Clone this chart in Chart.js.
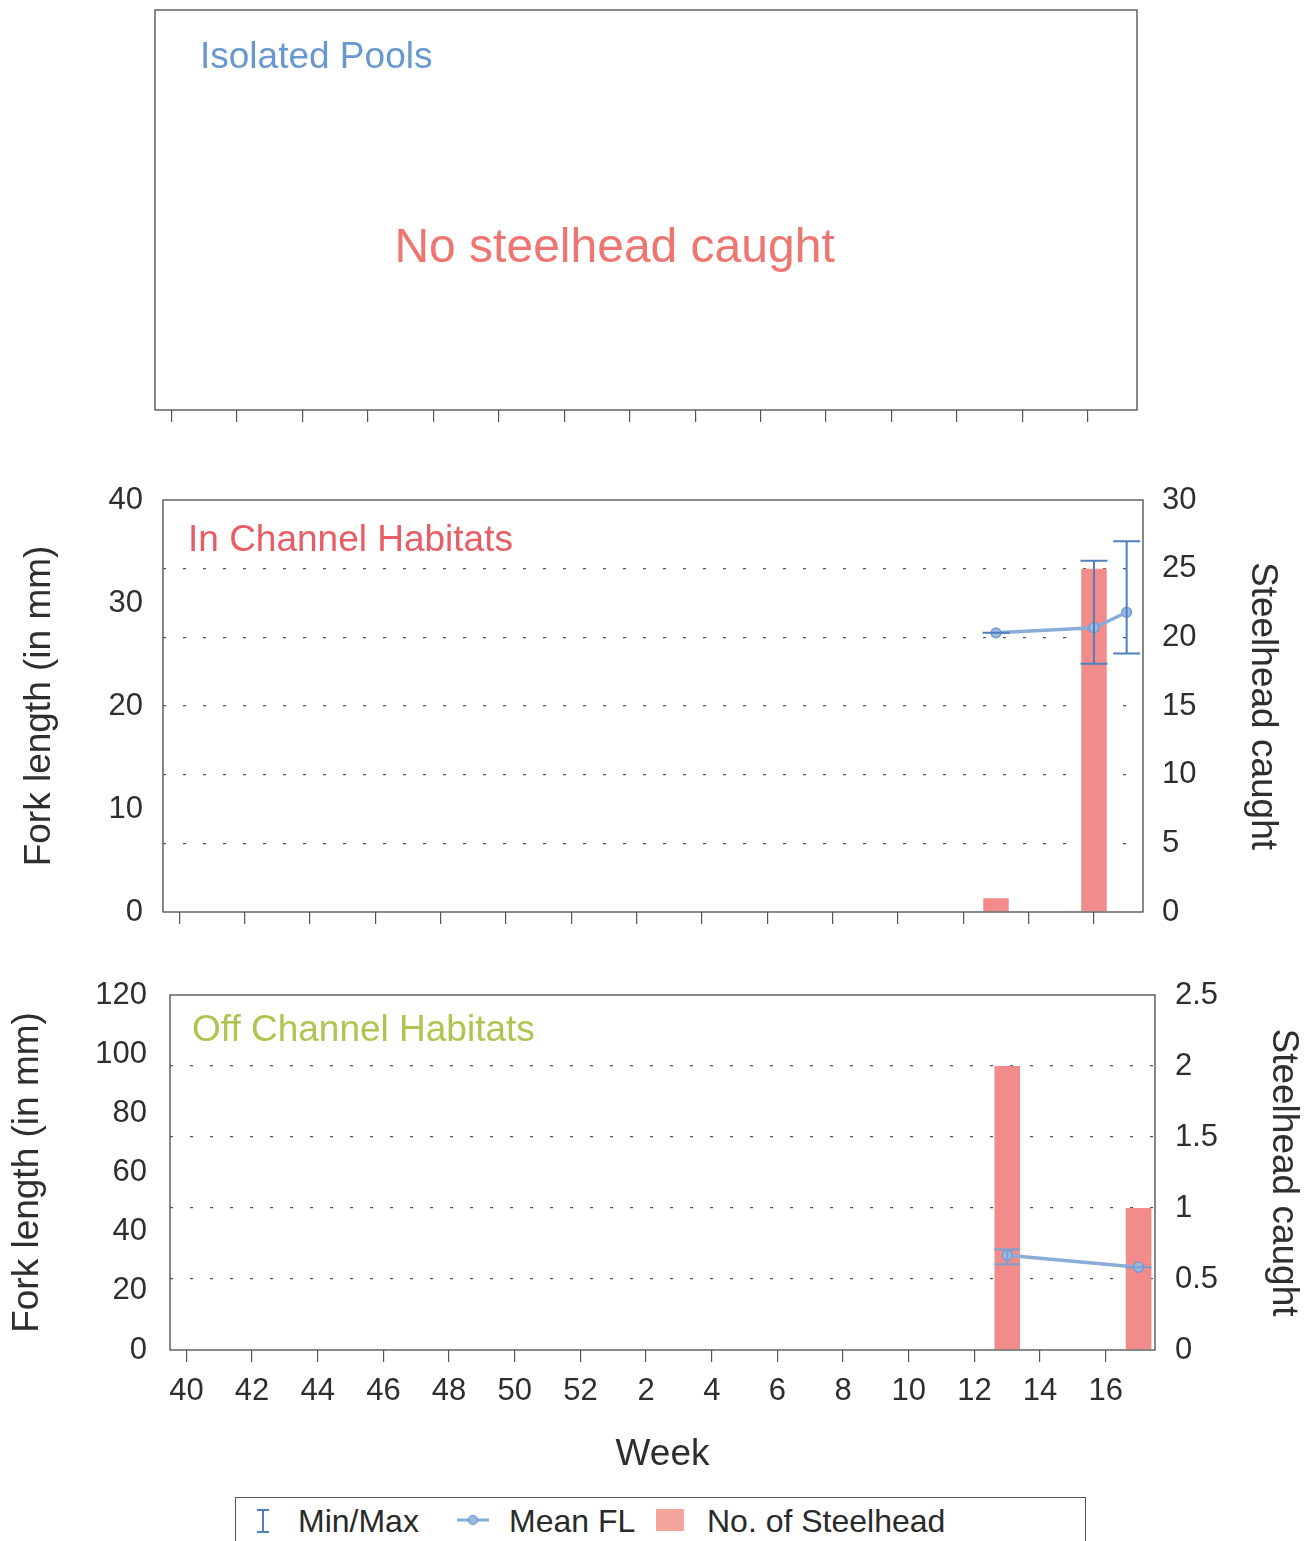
<!DOCTYPE html>
<html>
<head>
<meta charset="utf-8">
<script src="https://cdn.jsdelivr.net/npm/chart.js@4/dist/chart.umd.min.js"></script>
<style>
  html, body { margin:0; padding:0; background:#fff; }
  body { width:1312px; height:1541px; position:relative; overflow:hidden; font-family:"Liberation Sans", Arial, sans-serif; }
  .panel { position:absolute; left:0; }
  #legend { position:absolute; left:235px; top:1497px; width:851px; height:70px; border:1.2px solid #555; box-sizing:border-box; }
  #legend span, #legend svg { position:absolute; }
  #legend span { font-size:32px; line-height:38px; top:4px; color:#2a2a2a; white-space:nowrap; }
</style>
</head>
<body>
<canvas id="c1" class="panel" style="top:0px" width="1312" height="440"></canvas>
<canvas id="c2" class="panel" style="top:470px" width="1312" height="470"></canvas>
<canvas id="c3" class="panel" style="top:960px" width="1312" height="520"></canvas>
<div id="legend">
  <svg style="left:18px;top:10px" width="18" height="26" viewBox="0 0 18 26">
    <path d="M3 2 H15 M9 2 V24 M3 24 H15" stroke="#4f7fbc" stroke-width="2" fill="none"/>
  </svg>
  <span style="left:62px">Min/Max</span>
  <svg style="left:220px;top:15px" width="34" height="14" viewBox="0 0 34 14">
    <line x1="1" y1="7" x2="33" y2="7" stroke="#8aacd8" stroke-width="3"/>
    <circle cx="17" cy="7" r="4.5" fill="#9ab8e0" stroke="#6e96cc" stroke-width="1.2"/>
  </svg>
  <span style="left:273px">Mean FL</span>
  <svg style="left:420px;top:11px" width="28" height="22" viewBox="0 0 28 22">
    <rect x="0" y="0" width="28" height="22" fill="#f4a49a"/>
  </svg>
  <span style="left:471px">No. of Steelhead</span>
</div>
<script>
// ---------- DATA ----------
const weeks = ['40','41','42','43','44','45','46','47','48','49','50','51','52',
               '1','2','3','4','5','6','7','8','9','10','11','12','13','14','15','16','17'];

// In Channel Habitats
const inChCountWeeks = ['13','16'];
const inChCount      = [1, 25];
const inChFLWeeks    = ['13','16','17'];
const inChMeanFL     = [27.1, 27.6, 29.1];
const inChMinFL      = [27.1, 24.1, 25.1];
const inChMaxFL      = [27.1, 34.1, 36.0];

// Off Channel Habitats
const offChCountWeeks = ['13','17'];
const offChCount      = [2, 1];
const offChFLWeeks    = ['13','17'];
const offChMeanFL     = [32, 28];
const offChMinFL      = [29, 28];
const offChMaxFL      = [34, 28];

// Axis ranges
const inChFLAxis     = {min:0, max:40, step:10};
const inChCountAxis  = {min:0, max:30, step:5};
const offChFLAxis    = {min:0, max:120, step:20};
const offChCountAxis = {min:0, max:2.5, step:0.5};

// ---------- STYLE ----------
const FONT = '"Liberation Sans", Arial, sans-serif';
Chart.defaults.font.family = FONT;
Chart.defaults.color = '#2e2e2e';
const BAR_COLOR = 'rgb(241,140,138)';
const LINE_COLOR = 'rgb(138,172,216)';
const ERR_COLOR = 'rgb(79,127,188)';
const BOX_COLOR = '#4a4a4a';
const CLEAR = 'rgba(0,0,0,0)';

function xAxis(showLabels, height) {
  return {
    type:'category', offset:true,
    grid:{ offset:false, drawOnChartArea:false, drawTicks:true, tickLength:12, lineWidth:1.2,
           color:(ctx)=> (ctx.index % 2 === 0 ? '#555' : CLEAR) },
    border:{ display:false },
    ticks:{ autoSkip:false, maxRotation:0, minRotation:0, padding:11, font:{size:31}, color:'#2e2e2e',
            callback:(v,i)=> (showLabels && i % 2 === 0 ? weeks[i] : '') },
    afterFit:(s)=>{ s.height = height; }
  };
}

function yAxis(pos, range, width, tickGap, titleText, titlePad, gridOn) {
  return {
    type:'linear', position:pos, min:range.min, max:range.max,
    ticks:{ stepSize:range.step, padding:0, font:{size:31}, color:'#2e2e2e',
            callback:(v)=> String(+(+v).toFixed(2)) },
    grid:{
      drawOnChartArea:gridOn, drawTicks:true, tickLength:tickGap, tickColor:CLEAR, lineWidth:1.3,
      color:(ctx)=> (!gridOn || (ctx.tick && (ctx.tick.value === range.min || ctx.tick.value === range.max)) ? CLEAR : '#555')
    },
    border:{ display:false, dash:[3,17] },
    title:{ display:true, text:titleText, font:{size:37}, color:'#2e2e2e', padding:{top:titlePad, bottom:0} },
    afterFit:(s)=>{ s.width = width; }
  };
}

const boxPlugin = {
  id:'box',
  afterDatasetsDraw(chart){
    const a = chart.chartArea, c = chart.ctx;
    c.save(); c.strokeStyle = BOX_COLOR; c.lineWidth = 1.3;
    c.strokeRect(a.left, a.top, a.right - a.left, a.bottom - a.top);
    c.restore();
  }
};

function labelPlugin(text, color, dx, dy, size, align) {
  return {
    id:'label_' + text.replace(/\s/g,''),
    afterDraw(chart){
      const a = chart.chartArea, c = chart.ctx;
      c.save(); c.fillStyle = color; c.font = size + 'px ' + FONT;
      c.textAlign = align; c.textBaseline = 'middle';
      const x = align === 'center' ? a.left + dx * (a.right - a.left) : a.left + dx;
      const y = align === 'center' ? a.top + dy * (a.bottom - a.top) : a.top + dy;
      c.fillText(text, x, y);
      c.restore();
    }
  };
}

function errorBarPlugin(wk, mins, maxs, color, capW) {
  return {
    id:'errbars',
    afterDatasetsDraw(chart){
      const xs = chart.scales.x, ys = chart.scales.yL, c = chart.ctx;
      c.save(); c.strokeStyle = color; c.lineWidth = 2;
      wk.forEach((w,i)=>{
        const px = xs.getPixelForValue(weeks.indexOf(w));
        const y1 = ys.getPixelForValue(mins[i]), y2 = ys.getPixelForValue(maxs[i]);
        c.beginPath();
        c.moveTo(px, y1); c.lineTo(px, y2);
        c.moveTo(px - capW/2, y1); c.lineTo(px + capW/2, y1);
        c.moveTo(px - capW/2, y2); c.lineTo(px + capW/2, y2);
        c.stroke();
      });
      c.restore();
    }
  };
}

function lineDataset(wk, vals) {
  return {
    type:'line', label:'Mean FL', yAxisID:'yL', order:0,
    data: wk.map((w,i)=>({x:w, y:vals[i]})),
    borderColor:LINE_COLOR, borderWidth:3.5,
    pointRadius:5, pointBackgroundColor:'rgb(155,185,225)', pointBorderColor:'rgb(110,150,205)', pointBorderWidth:1.2,
    tension:0
  };
}
function barDataset(wk, vals) {
  return {
    type:'bar', label:'No. of Steelhead', yAxisID:'yR', order:1,
    data: wk.map((w,i)=>({x:w, y:vals[i]})),
    backgroundColor:BAR_COLOR, borderWidth:0,
    barPercentage:0.78, categoryPercentage:1
  };
}

const common = { responsive:false, animation:false, devicePixelRatio:1,
  plugins:{ legend:{display:false}, tooltip:{enabled:false} } };

// ---------- Panel 1: Isolated Pools ----------
new Chart(document.getElementById('c1'), {
  type:'bar',
  data:{ labels:weeks, datasets:[{ label:'No. of Steelhead', data:[], backgroundColor:BAR_COLOR }] },
  options:Object.assign({}, common, {
    layout:{ padding:{ left:155, right:175, top:10, bottom:0 } },
    scales:{ x:xAxis(false, 30), y:{ display:false, min:0, max:1 } }
  }),
  plugins:[ boxPlugin,
    labelPlugin('Isolated Pools', 'rgb(104,152,208)', 45, 48, 37, 'left'),
    labelPlugin('No steelhead caught', 'rgb(238,118,112)', 0.468, 0.5975, 48, 'center') ]
});

// ---------- Panel 2: In Channel Habitats ----------
new Chart(document.getElementById('c2'), {
  type:'bar',
  data:{ labels:weeks, datasets:[ lineDataset(inChFLWeeks, inChMeanFL), barDataset(inChCountWeeks, inChCount) ] },
  options:Object.assign({}, common, {
    layout:{ padding:{ left:0, right:0, top:30, bottom:0 } },
    scales:{
      x:xAxis(false, 28),
      yL:yAxis('left', inChFLAxis, 163, 20, 'Fork length (in mm)', 18, false),
      yR:yAxis('right', inChCountAxis, 169, 19, 'Steelhead caught', 28, true)
    }
  }),
  plugins:[ boxPlugin,
    errorBarPlugin(inChFLWeeks, inChMinFL, inChMaxFL, ERR_COLOR, 27),
    labelPlugin('In Channel Habitats', 'rgb(232,92,102)', 25, 41, 37, 'left') ]
});

// ---------- Panel 3: Off Channel Habitats ----------
const x3 = xAxis(true, 130);
x3.title = { display:true, text:'Week', font:{size:37}, color:'#2e2e2e', padding:{top:0, bottom:3} };
new Chart(document.getElementById('c3'), {
  type:'bar',
  data:{ labels:weeks, datasets:[ lineDataset(offChFLWeeks, offChMeanFL), barDataset(offChCountWeeks, offChCount) ] },
  options:Object.assign({}, common, {
    layout:{ padding:{ left:0, right:0, top:35, bottom:0 } },
    scales:{
      x:x3,
      yL:yAxis('left', offChFLAxis, 170, 23, 'Fork length (in mm)', 6, false),
      yR:yAxis('right', offChCountAxis, 157, 20, 'Steelhead caught', 7, true)
    }
  }),
  plugins:[ boxPlugin,
    errorBarPlugin(offChFLWeeks, offChMinFL, offChMaxFL, 'rgb(120,160,210)', 26),
    labelPlugin('Off Channel Habitats', 'rgb(176,196,82)', 22, 36, 37, 'left') ]
});
</script>
</body>
</html>
